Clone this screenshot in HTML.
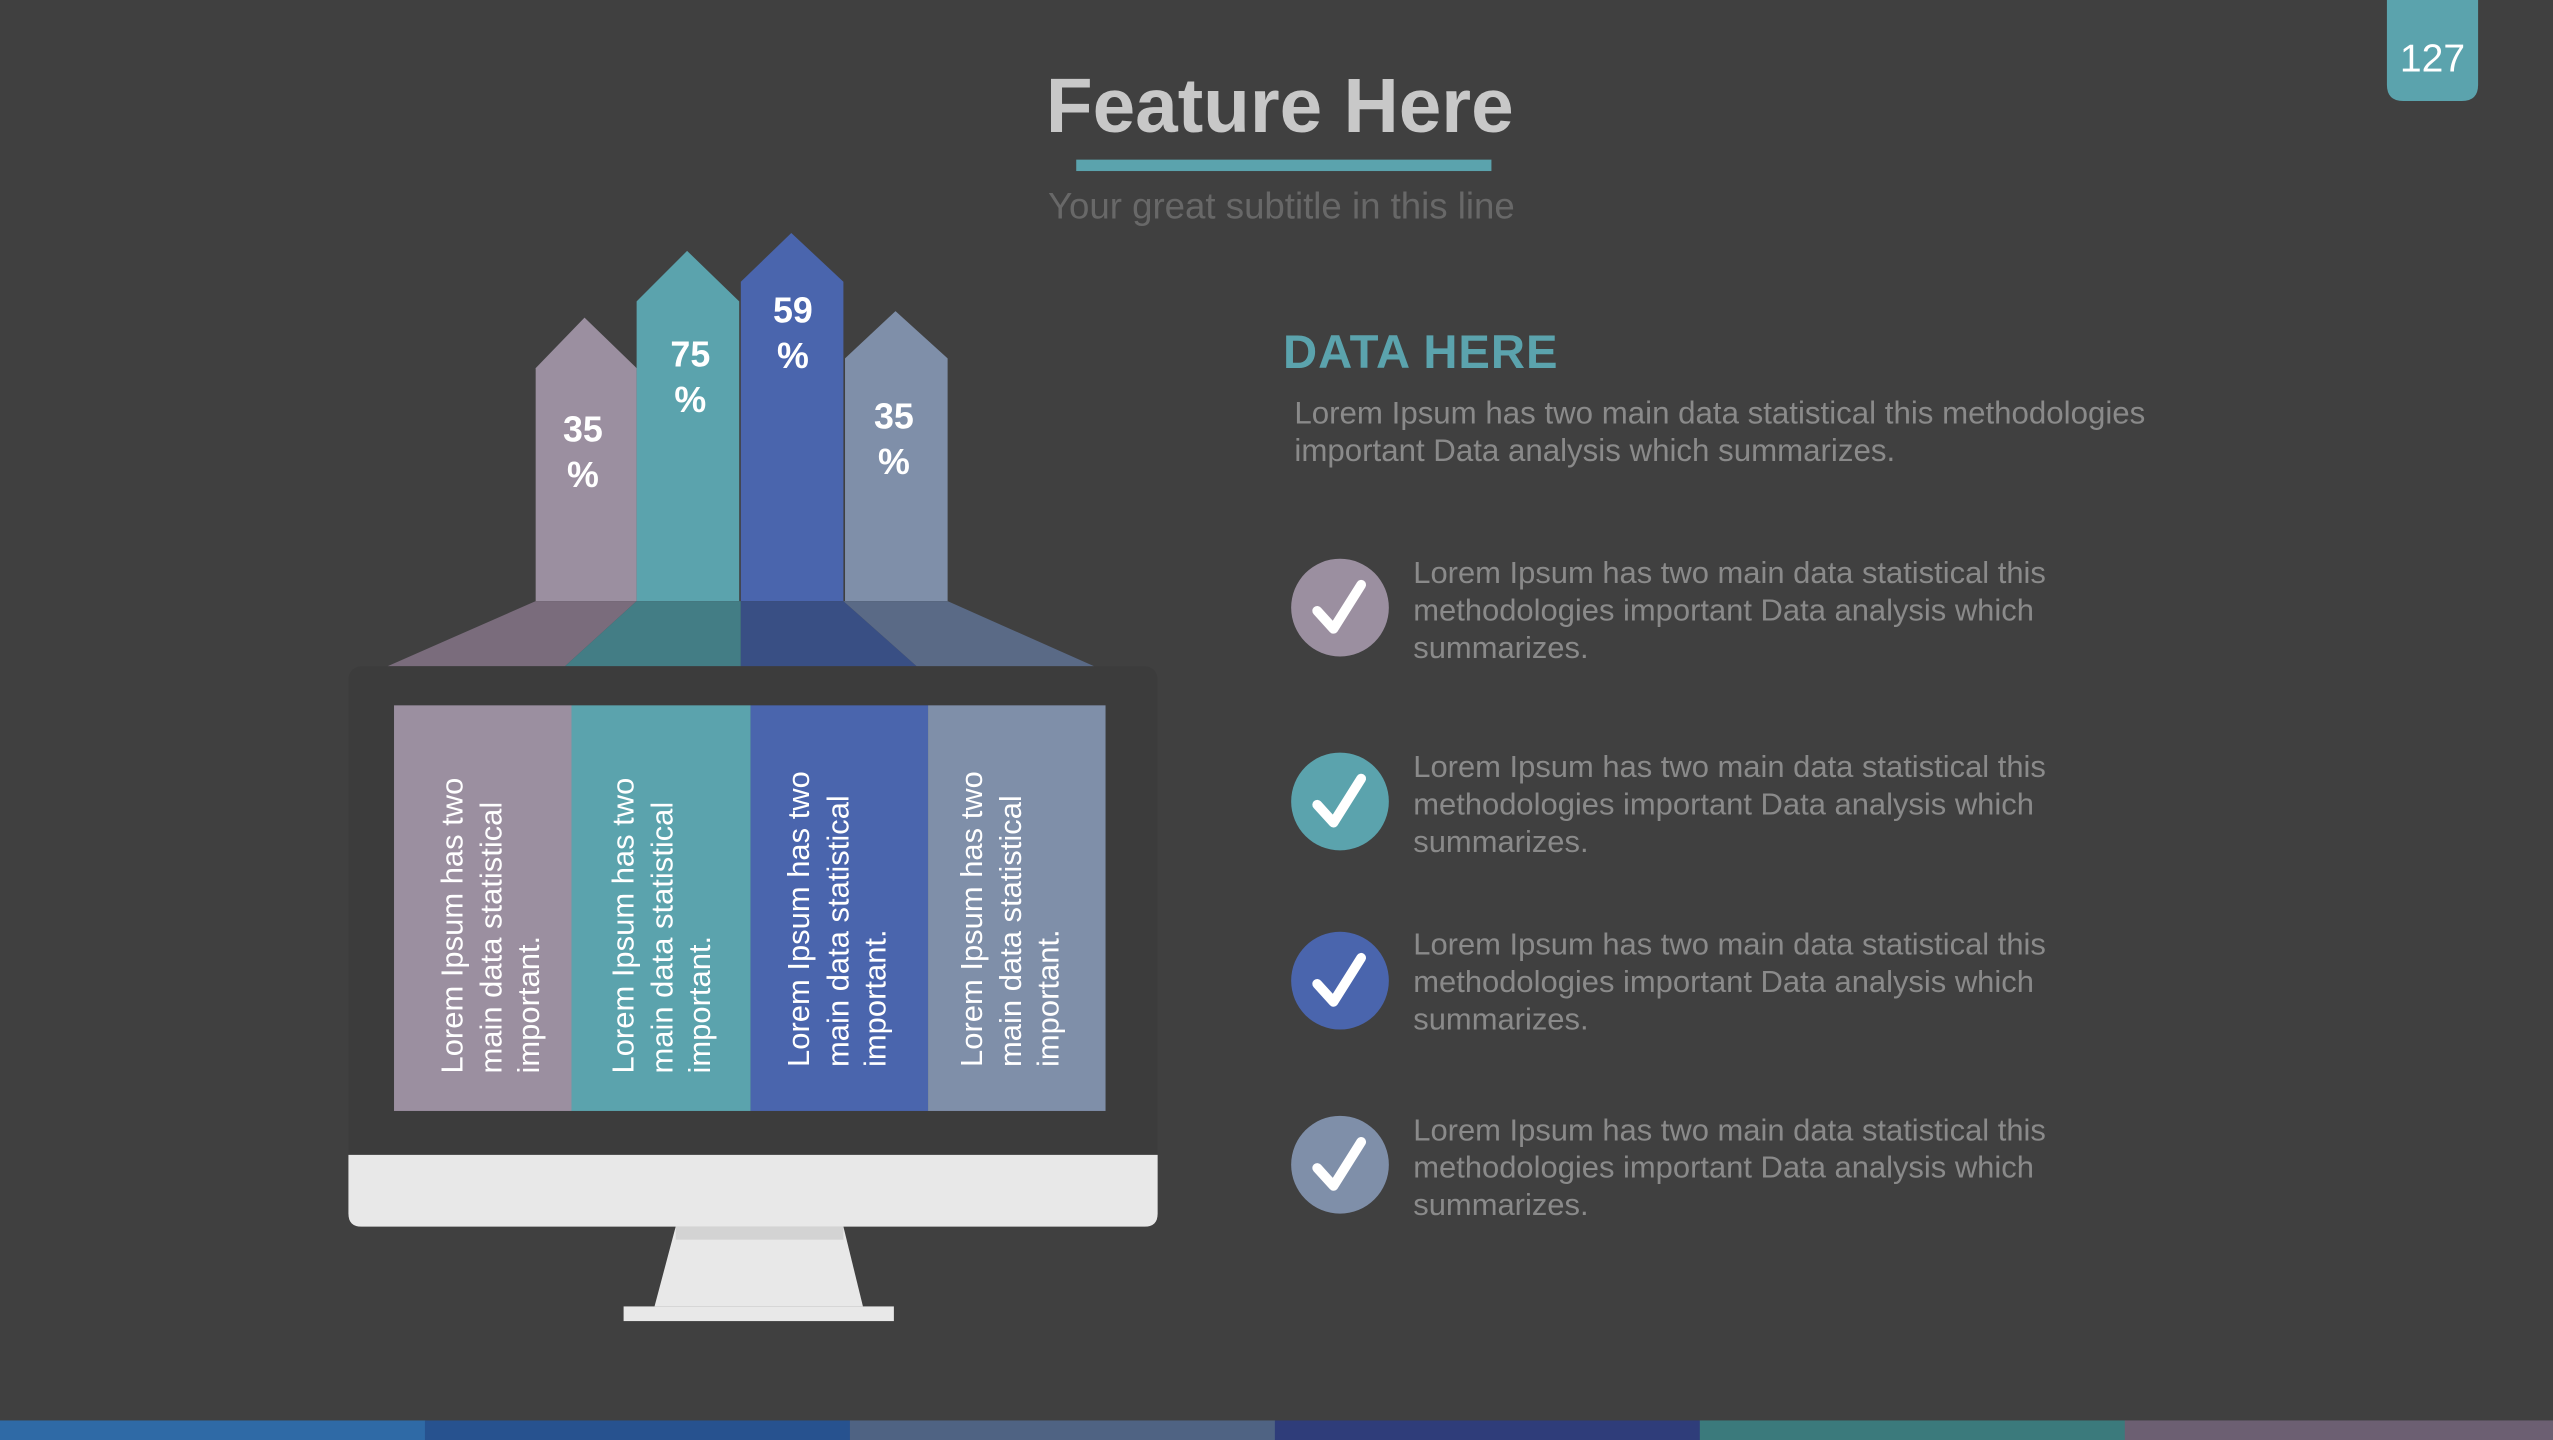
<!DOCTYPE html>
<html><head><meta charset="utf-8"><style>html,body{margin:0;padding:0;background:#404040;overflow:hidden}svg{display:block}</style></head><body>
<svg width="2553" height="1440" viewBox="0 0 1568 884" preserveAspectRatio="none" xmlns="http://www.w3.org/2000/svg" font-family="'Liberation Sans', sans-serif">
<rect width="1568" height="884" fill="#404040"/>
<path d="M1466 0H1522V52Q1522 62 1512 62H1476Q1466 62 1466 52Z" fill="#5ba3ad"/>
<text x="1494" y="44" font-size="24" fill="#fff" text-anchor="middle">127</text>
<text x="786" y="81" font-size="47" font-weight="bold" fill="#c8c8c8" text-anchor="middle">Feature Here</text>
<rect x="661" y="98" width="255" height="7" fill="#5ba3ad"/>
<text x="787" y="134" font-size="22.5" fill="#686868" text-anchor="middle">Your great subtitle in this line</text>
<!-- arrows -->
<path d="M329 369V226L359 195L391 226V369Z" fill="#9b8fa0"/>
<path d="M391 369V185L422 154L454 185V369Z" fill="#5ba3ad"/>
<path d="M455 369V173L486 143L518 173V369Z" fill="#4a65ad"/>
<path d="M519 369V220L550 191L582 220V369Z" fill="#7f8fa9"/>
<g font-size="22" font-weight="bold" fill="#fff" text-anchor="middle">
<text x="358" y="271">35</text><text x="358" y="299">%</text>
<text x="424" y="225">75</text><text x="424" y="253">%</text>
<text x="487" y="198">59</text><text x="487" y="226">%</text>
<text x="549" y="263">35</text><text x="549" y="291">%</text>
</g>
<path d="M329 369H391L347 409H238Z" fill="#7a6c7c"/>
<path d="M391 369H455V409H347Z" fill="#437d85"/>
<path d="M455 369H518L563 409H455Z" fill="#394f84"/>
<path d="M518 369H582L672 409H563Z" fill="#5a6a86"/>
<!-- monitor -->
<rect x="214" y="409" width="497" height="310" rx="8" fill="#3c3c3c"/>
<path d="M214 709H711V745Q711 753 703 753H222Q214 753 214 745Z" fill="#e8e8e8"/>
<path d="M415 753H518L530 802H402Z" fill="#e8e8e8"/>
<rect x="415" y="753" width="103" height="8" fill="#d3d3d3"/>
<rect x="383" y="802" width="166" height="9" fill="#e8e8e8"/>
<rect x="242" y="433" width="109" height="249" fill="#9b8fa0"/>
<rect x="351" y="433" width="110" height="249" fill="#5ba3ad"/>
<rect x="461" y="433" width="109" height="249" fill="#4a65ad"/>
<rect x="570" y="433" width="109" height="249" fill="#7f8fa9"/>
<g font-size="19" fill="#fff">
<text transform="translate(284,659) rotate(-90)">Lorem Ipsum has two</text>
<text transform="translate(308,659) rotate(-90)">main data statistical</text>
<text transform="translate(331,659) rotate(-90)">important.</text>
<text transform="translate(389,659) rotate(-90)">Lorem Ipsum has two</text>
<text transform="translate(413,659) rotate(-90)">main data statistical</text>
<text transform="translate(436,659) rotate(-90)">important.</text>
<text transform="translate(497,655) rotate(-90)">Lorem Ipsum has two</text>
<text transform="translate(521,655) rotate(-90)">main data statistical</text>
<text transform="translate(544,655) rotate(-90)">important.</text>
<text transform="translate(603,655) rotate(-90)">Lorem Ipsum has two</text>
<text transform="translate(627,655) rotate(-90)">main data statistical</text>
<text transform="translate(650,655) rotate(-90)">important.</text>
</g>
<text x="788" y="226" font-size="29" font-weight="bold" fill="#5ba3ad" letter-spacing="0.6">DATA  HERE</text>
<g font-size="19.2" fill="#8a8a8a">
<text x="795" y="260">Lorem Ipsum has two main data statistical this methodologies</text>
<text x="795" y="283">important Data analysis which summarizes.</text>
</g>
<g fill="none" stroke="#fff" stroke-width="6" stroke-linecap="round" stroke-linejoin="round">
<circle cx="823" cy="373" r="30" fill="#9b8fa0" stroke="none"/><path d="M809 375L819 386L836 359"/>
<circle cx="823" cy="492" r="30" fill="#5ba3ad" stroke="none"/><path d="M809 494L819 505L836 478"/>
<circle cx="823" cy="602" r="30" fill="#4a65ad" stroke="none"/><path d="M809 604L819 615L836 588"/>
<circle cx="823" cy="715" r="30" fill="#7f8fa9" stroke="none"/><path d="M809 717L819 728L836 701"/>
</g>
<g font-size="19" fill="#8a8a8a">
<text x="868" y="358">Lorem Ipsum has two main data statistical this</text>
<text x="868" y="381">methodologies important Data analysis which</text>
<text x="868" y="404">summarizes.</text>
<text x="868" y="477">Lorem Ipsum has two main data statistical this</text>
<text x="868" y="500">methodologies important Data analysis which</text>
<text x="868" y="523">summarizes.</text>
<text x="868" y="586">Lorem Ipsum has two main data statistical this</text>
<text x="868" y="609">methodologies important Data analysis which</text>
<text x="868" y="632">summarizes.</text>
<text x="868" y="700">Lorem Ipsum has two main data statistical this</text>
<text x="868" y="723">methodologies important Data analysis which</text>
<text x="868" y="746">summarizes.</text>
</g>
<rect x="0" y="872" width="262" height="12" fill="#2f6aa6"/>
<rect x="261" y="872" width="262" height="12" fill="#27528f"/>
<rect x="522" y="872" width="262" height="12" fill="#4f6383"/>
<rect x="783" y="872" width="262" height="12" fill="#2f3d7a"/>
<rect x="1044" y="872" width="262" height="12" fill="#3b7a7c"/>
<rect x="1305" y="872" width="263" height="12" fill="#6c5f72"/>
</svg>
</body></html>
